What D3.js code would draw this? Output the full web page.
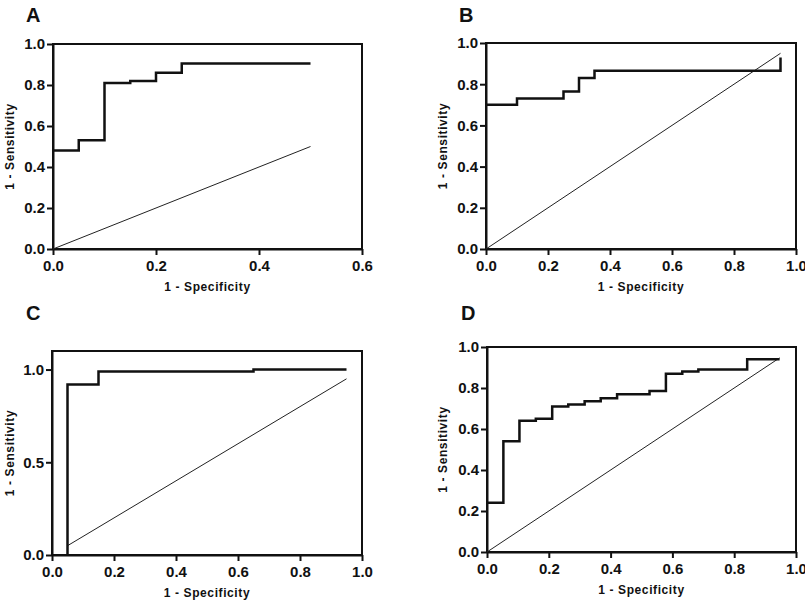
<!DOCTYPE html>
<html>
<head>
<meta charset="utf-8">
<script src="https://cdnjs.cloudflare.com/ajax/libs/d3/7.8.5/d3.min.js"></script>
<style>
  body { margin: 0; background: #fff; }
  svg { font-family: "Liberation Sans", Arial, sans-serif; }
  .tick text { font-size: 15px; font-weight: bold; fill: #111; }
  .axis path, .axis line { stroke: #111; stroke-width: 2px; }
  .title { font-size: 12px; font-weight: bold; letter-spacing: 0.6px; fill: #111; }
  .letter { font-size: 20px; font-weight: bold; fill: #111; }
</style>
</head>
<body>
<svg id="chart" width="805" height="602"></svg>
<script>
// ROC curves (x = 1 - specificity, y = sensitivity)
var fprA = [0, 0.05, 0.10, 0.15, 0.20, 0.25, 0.50];
var tprA = [0.48, 0.53, 0.81, 0.82, 0.86, 0.905, 0.905];

var fprB = [0, 0.10, 0.25, 0.30, 0.35, 0.95];
var tprB = [0.70, 0.73, 0.765, 0.83, 0.865, 0.93];

var fprC = [0.05, 0.05, 0.15, 0.65, 0.95];
var tprC = [0, 0.92, 0.99, 1.0, 1.0];

var fprD = [0, 0.053, 0.105, 0.158, 0.211, 0.263, 0.316, 0.368, 0.421, 0.526, 0.579, 0.632, 0.684, 0.842, 0.947];
var tprD = [0.24, 0.54, 0.64, 0.65, 0.71, 0.72, 0.735, 0.75, 0.77, 0.785, 0.87, 0.88, 0.89, 0.94, 0.94];

// reference (chance) lines: start and end
var refA = [0, 0.5];
var refB = [0, 0.95];
var refC = [0.05, 0.95];
var refD = [0, 0.947];

var xTicksA = [0, 0.2, 0.4, 0.6];
var xTicks = [0, 0.2, 0.4, 0.6, 0.8, 1.0];
var yTicks = [0, 0.2, 0.4, 0.6, 0.8, 1.0];
var yTicksC = [0, 0.5, 1.0];

var xTitle = "1 - Specificity";
var yTitle = "1 - Sensitivity";

var panels = [
  {letter: "A", lx: 26, ly: 22, left: 53, top: 44, w: 309, h: 205, xMax: 0.6, yMax: 1.0,
   xt: xTicksA, yt: yTicks, fpr: fprA, tpr: tprA, ref: refA, ytx: 10},
  {letter: "B", lx: 459, ly: 22, left: 486, top: 43, w: 310, h: 206, xMax: 1.0, yMax: 1.0,
   xt: xTicks, yt: yTicks, fpr: fprB, tpr: tprB, ref: refB, ytx: 443},
  {letter: "C", lx: 26, ly: 320, left: 52, top: 351, w: 310, h: 204, xMax: 1.0, yMax: 1.1,
   xt: xTicks, yt: yTicksC, fpr: fprC, tpr: tprC, ref: refC, ytx: 10},
  {letter: "D", lx: 461, ly: 320, left: 487, top: 347, w: 309, h: 205, xMax: 1.0, yMax: 1.0,
   xt: xTicks, yt: yTicks, fpr: fprD, tpr: tprD, ref: refD, ytx: 443}
];

var svg = d3.select("#chart");
var fmt = d3.format(".1f");

panels.forEach(function(p) {
  var x = d3.scaleLinear().domain([0, p.xMax]).range([0, p.w]);
  var y = d3.scaleLinear().domain([0, p.yMax]).range([p.h, 0]);

  svg.append("text")
    .attr("class", "letter")
    .attr("x", p.lx)
    .attr("y", p.ly)
    .text(p.letter);

  var g = svg.append("g")
    .attr("transform", "translate(" + p.left + "," + p.top + ")");

  // frame (top + right sides)
  g.append("rect")
    .attr("width", p.w)
    .attr("height", p.h)
    .attr("fill", "none")
    .attr("stroke", "#111")
    .attr("stroke-width", 2);

  g.append("g")
    .attr("class", "axis")
    .attr("transform", "translate(0," + p.h + ")")
    .call(d3.axisBottom(x).tickValues(p.xt).tickFormat(fmt).tickSize(6).tickSizeOuter(0).tickPadding(5));

  g.append("g")
    .attr("class", "axis")
    .call(d3.axisLeft(y).tickValues(p.yt).tickFormat(fmt).tickSize(6).tickSizeOuter(0).tickPadding(2));

  // chance line
  g.append("line")
    .attr("x1", x(p.ref[0])).attr("y1", y(p.ref[0]))
    .attr("x2", x(p.ref[1])).attr("y2", y(p.ref[1]))
    .attr("stroke", "#222")
    .attr("stroke-width", 1);

  var pts = p.fpr.map(function(v, i) { return [v, p.tpr[i]]; });
  var line = d3.line()
    .x(function(d) { return x(d[0]); })
    .y(function(d) { return y(d[1]); })
    .curve(d3.curveStepAfter);

  g.append("path")
    .datum(pts)
    .attr("d", line)
    .attr("fill", "none")
    .attr("stroke", "#111")
    .attr("stroke-width", 2.5);

  g.append("text")
    .attr("class", "title")
    .attr("text-anchor", "middle")
    .attr("x", p.w / 2)
    .attr("y", p.h + 42)
    .text(xTitle);

  svg.append("text")
    .attr("class", "title")
    .attr("text-anchor", "middle")
    .attr("transform", "translate(" + p.ytx + "," + (p.top + p.h / 2) + ") rotate(-90)")
    .attr("dy", "0.35em")
    .text(yTitle);
});
</script>
</body>
</html>
